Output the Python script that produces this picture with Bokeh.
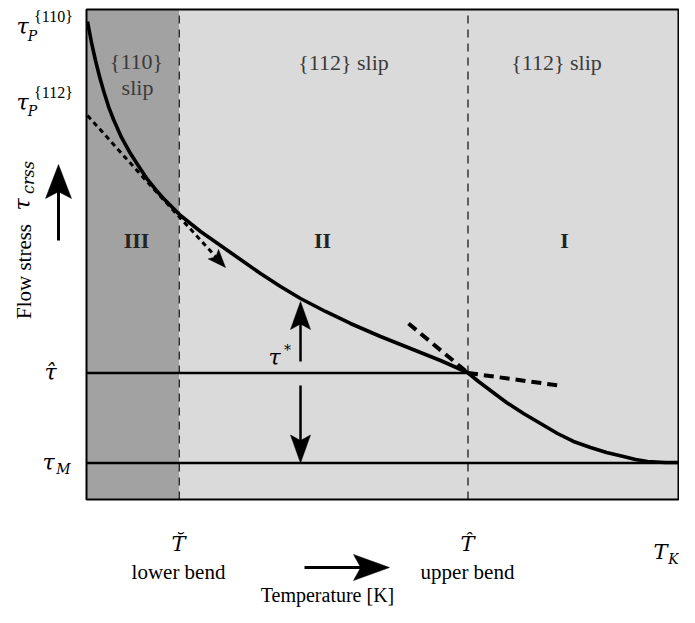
import math
from bokeh.plotting import figure
from bokeh.models import Range1d
from bokeh.core.properties import value
from bokeh.embed import file_html
from bokeh.resources import INLINE

# ---------------- data (T / T_K , normalised flow stress) ----------------
T_lower = 0.1568      # lower bend (T breve)
T_upper = 0.6444      # upper bend (T hat)
T_K = 1.0
tau_hat = 0.2582
tau_M = 0.0745
tau_P110 = 0.9755
tau_P112 = 0.7837

curve_T = [0.0017, 0.0084, 0.0152, 0.0220, 0.0287, 0.0372, 0.0456, 0.0591,
           0.0743, 0.0895, 0.1030, 0.1166, 0.1301, 0.1453, 0.1588, 0.1757,
           0.1926, 0.2264, 0.2601, 0.2939, 0.3277, 0.3615, 0.4037, 0.4459,
           0.4966, 0.5473, 0.5980, 0.6436, 0.6622, 0.6824, 0.7095, 0.7382,
           0.7669, 0.7956, 0.8226, 0.8514, 0.8784, 0.9071, 0.9274, 0.9476,
           0.9780, 1.0000]
curve_tau = [0.9755, 0.9327, 0.8959, 0.8633, 0.8347, 0.8020, 0.7755, 0.7388,
             0.7061, 0.6776, 0.6531, 0.6327, 0.6143, 0.5959, 0.5796, 0.5633,
             0.5469, 0.5184, 0.4898, 0.4612, 0.4347, 0.4102, 0.3837, 0.3592,
             0.3327, 0.3082, 0.2837, 0.2592, 0.2408, 0.2224, 0.1980, 0.1755,
             0.1551, 0.1347, 0.1184, 0.1061, 0.0959, 0.0878, 0.0816, 0.0776,
             0.0755, 0.0755]

dot_T = [0.0017, 0.1081, 0.2010]
dot_tau = [0.7837, 0.6408, 0.5184]
dot_tip = (0.2348, 0.4735)

tangent_hi_T = [0.5439, T_upper]
tangent_hi_tau = [0.3592, tau_hat]
tangent_lo_T = [T_upper, 0.7973]
tangent_lo_tau = [tau_hat, 0.2327]

tau_star_T = 0.3615
tau_star_top = 0.4041

region_names = ["III", "II", "I"]
region_T = [0.0845, 0.3986, 0.8074]
region_tau = [0.5286, 0.5286, 0.5286]

slip_labels = ["{112} slip", "{112} slip"]
slip_T = [0.4341, 0.7939]
slip_tau = [0.8918, 0.8918]

# ---------------- figure ----------------
SX, SY = 592.0, 490.0          # pixels per unit
W, H = 679, 607
p = figure(width=W, height=H,
           x_range=Range1d(-86 / SX, (W - 86) / SX),
           y_range=Range1d((499 - H) / SY, 499 / SY),
           output_backend="svg", toolbar_location=None, min_border=0,
           x_axis_location=None, y_axis_location=None)
p.grid.visible = False
p.outline_line_color = None
p.background_fill_color = "white"
p.border_fill_color = "white"

FONT = value("Liberation Serif")     # words
MATH = value("DejaVu Serif")         # symbols


def P(x, y):
    """pixel offset helper for label placement"""
    return ((x - 86) / SX, (499 - y) / SY)


def txt(pos, s, size, style="normal", color="black", angle=0.0, font=FONT):
    p.text(x=[pos[0]], y=[pos[1]], text=[s], text_font=font,
           text_font_size=f"{size}px", text_font_style=style,
           text_color=color, text_align="center", text_baseline="middle",
           angle=angle)


def mtxt(pos, s, size, style="italic", angle=0.0):
    txt(pos, s, size, style, angle=angle, font=MATH)


def head(tip, frm, L, Wd, notch=0.8):
    tx, ty = tip[0] * SX, tip[1] * SY
    fx, fy = frm[0] * SX, frm[1] * SY
    dx, dy = tx - fx, ty - fy
    n = math.hypot(dx, dy)
    ux, uy = dx / n, dy / n
    nx, ny = -uy, ux
    bx, by = tx - ux * L, ty - uy * L
    pts = [(tx, ty), (bx + nx * Wd / 2, by + ny * Wd / 2),
           (tx - ux * L * notch, ty - uy * L * notch),
           (bx - nx * Wd / 2, by - ny * Wd / 2)]
    p.patch([a / SX for a, b in pts], [b / SY for a, b in pts],
            fill_color="black", line_color="black", line_width=0.5)
    return ((tx - ux * L * notch * 0.9) / SX, (ty - uy * L * notch * 0.9) / SY)


# regions
p.quad(left=0, right=T_lower, bottom=0, top=1, fill_color="#a2a2a2", line_color=None)
p.quad(left=T_lower, right=T_K, bottom=0, top=1, fill_color="#dadada", line_color=None)

# bend lines
for tb in (T_lower, T_upper):
    p.line([tb, tb], [0, 1], line_color="#2a2a2a", line_width=1.4, line_dash="8 6")

# horizontal levels
p.line([0, T_upper], [tau_hat, tau_hat], line_color="black", line_width=2.5)
p.line([0, T_K], [tau_M, tau_M], line_color="black", line_width=2.5)

# tangents at upper bend
p.line(tangent_hi_T, tangent_hi_tau, line_color="black", line_width=4, line_dash="10 6")
p.line(tangent_lo_T, tangent_lo_tau, line_color="black", line_width=4, line_dash="10 6")

# dotted {112} branch with arrow
base = head(dot_tip, (dot_T[-1], dot_tau[-1]), 18, 14)
p.line(dot_T + [base[0]], dot_tau + [base[1]], line_color="black", line_width=3, line_dash="5 4")

# main curve
p.line(curve_T, curve_tau, line_color="black", line_width=3.6, line_join="round")

# tau* arrows
b1 = head((tau_star_T, tau_star_top), (tau_star_T, tau_hat), 28, 20)
p.line([tau_star_T, tau_star_T], [P(0, 361)[1], b1[1]], line_color="black", line_width=2.5)
b2 = head((tau_star_T, tau_M), (tau_star_T, tau_hat), 28, 20)
p.line([tau_star_T, tau_star_T], [P(0, 385)[1], b2[1]], line_color="black", line_width=2.5)

# frame border
p.quad(left=0, right=T_K, bottom=0, top=1, fill_color=None, line_color="black", line_width=2)

# outside arrows
la_x = P(58, 0)[0]
b3 = head((la_x, P(0, 164)[1]), (la_x, P(0, 240)[1]), 34, 26)
p.line([la_x, la_x], [P(0, 240)[1], b3[1]], line_color="black", line_width=3)
ba_y = P(0, 567)[1]
b4 = head((P(389, 0)[0], ba_y), (P(304, 0)[0], ba_y), 36, 26)
p.line([P(304, 0)[0], b4[0]], [ba_y, ba_y], line_color="black", line_width=3)

# in-plot labels
txt(P(136, 61), "{110}", 22, color="#3a3a3a")
txt(P(137, 87), "slip", 22, color="#3a3a3a")
p.text(x=slip_T, y=slip_tau, text=slip_labels, text_font=FONT, text_font_size="22px",
       text_color="#3a3a3a", text_align="center", text_baseline="middle")
p.text(x=region_T, y=region_tau, text=region_names, text_font=FONT, text_font_size="22px",
       text_font_style="bold", text_color="#222222", text_align="center", text_baseline="middle")
mtxt(P(274, 357), "\u03c4", 22)
mtxt(P(287, 349), "*", 14, "normal")

# y-side labels
mtxt(P(22, 26), "\u03c4", 22)
mtxt(P(32, 35), "P", 14)
txt(P(53, 16), "{110}", 16)
mtxt(P(22, 102), "\u03c4", 22)
mtxt(P(32, 110), "P", 14)
txt(P(53, 92), "{112}", 16)
mtxt(P(50, 372), "\u03c4\u0302", 22)
mtxt(P(48, 462), "\u03c4", 22)
mtxt(P(63, 468), "M", 14)

# x-side labels
mtxt(P(178, 543), "T\u0306", 21)
mtxt(P(467, 543), "T\u0302", 21)
mtxt(P(660, 551), "T", 21)
mtxt(P(673, 558), "K", 14)
txt(P(178, 571), "lower bend", 21)
txt(P(467, 571), "upper bend", 21)
txt(P(327, 594), "Temperature [K]", 20)

# axis title (rotated)
txt(P(23, 271), "Flow stress", 21, angle=math.pi / 2)
mtxt(P(22, 204), "\u03c4", 22, angle=math.pi / 2)
mtxt(P(28, 177), "crss", 16, angle=math.pi / 2)

open("out.html", "w").write(file_html(p, INLINE))
